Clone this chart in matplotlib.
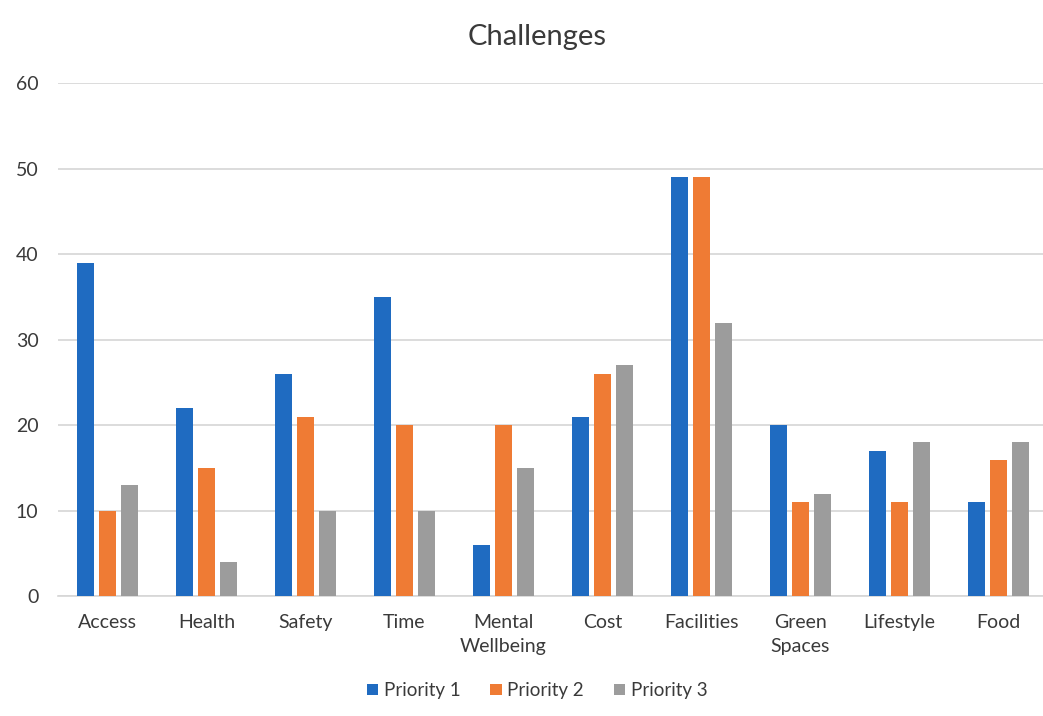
import matplotlib

matplotlib.use("Agg")
import matplotlib.pyplot as plt
import numpy as np

plt.rcParams["font.family"] = ["Lato", "DejaVu Sans"]

categories = ["Access", "Health", "Safety", "Time", "Mental\nWellbeing", "Cost",
              "Facilities", "Green\nSpaces", "Lifestyle", "Food"]
priority_1 = [39, 22, 26, 35, 6, 21, 49, 20, 17, 11]
priority_2 = [10, 15, 21, 20, 20, 26, 49, 11, 11, 16]
priority_3 = [13, 4, 10, 10, 15, 27, 32, 12, 18, 18]
series_names = ["Priority 1", "Priority 2", "Priority 3"]
yticks = [0, 10, 20, 30, 40, 50, 60]

colours = ["#1F6BC1", "#EF7B34", "#9C9C9C"]
text_col = "#3A3A3A"

fig = plt.figure(figsize=(10.43, 7.16), dpi=100)
fig.patch.set_facecolor("white")
ax = fig.add_axes([0.0556, 0.167, 0.949, 0.717])

x = np.arange(len(categories))
width = 0.175
step = 0.222
for i, (vals, name) in enumerate(zip([priority_1, priority_2, priority_3], series_names)):
    ax.bar(x + (i - 1) * step, vals, width, color=colours[i], label=name, zorder=3)

ax.set_xlim(-0.5, len(categories) - 0.5)
ax.set_ylim(0, 60)
ax.set_yticks(yticks)
ax.set_xticks(x)
ax.set_xticklabels(categories, fontsize=14, color=text_col, linespacing=1.5)
ax.tick_params(axis="y", labelsize=14, labelcolor=text_col, length=0, pad=14)
ax.tick_params(axis="x", length=0, pad=13)
ax.yaxis.grid(True, color="#D6D6D6", linewidth=1.2, zorder=0)
for side in ["top", "right", "left"]:
    ax.spines[side].set_visible(False)
ax.spines["bottom"].set_color("#D6D6D6")
ax.spines["bottom"].set_linewidth(1.2)

fig.suptitle("Challenges", fontsize=21, color=text_col, y=0.967, x=0.515)

fig.legend(loc="lower center", ncol=3, frameon=False, fontsize=13.5,
           bbox_to_anchor=(0.515, 0.0), handlelength=0.6, handleheight=0.6,
           handletextpad=0.3, columnspacing=1.6, labelcolor=text_col)

fig.savefig("out.png", dpi=100, facecolor=fig.get_facecolor())
